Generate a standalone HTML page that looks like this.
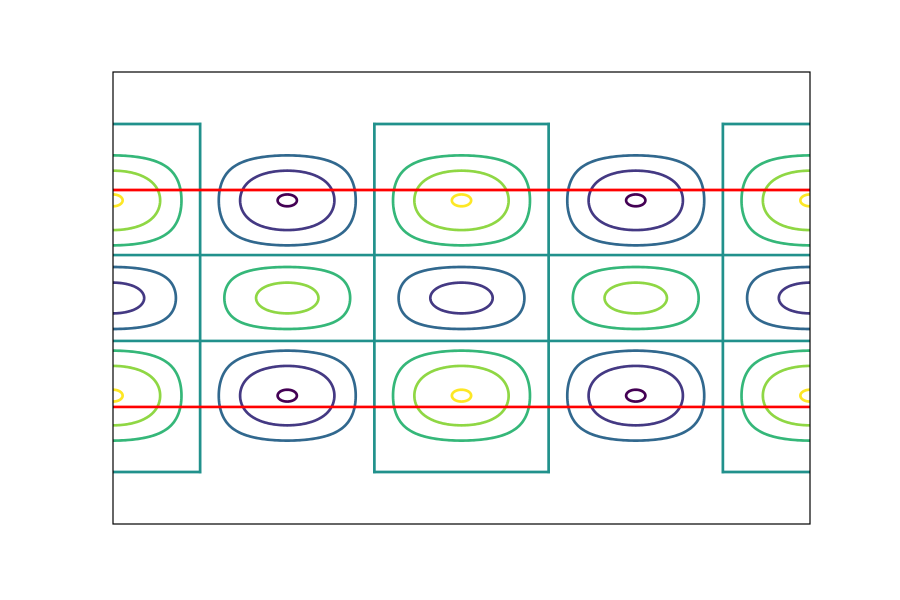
<!DOCTYPE html>
<html><head><meta charset="utf-8"><style>
html,body{margin:0;padding:0;background:#fff;}
svg{display:block;font-family:"Liberation Sans",sans-serif;}
</style></head><body>
<svg id="chart" width="900" height="600" viewBox="0 0 900 600">
<defs><clipPath id="clip"><rect x="113" y="72" width="697" height="452"/></clipPath></defs>
<rect x="0" y="0" width="900" height="600" fill="#fff"/>
<g id="plot" clip-path="url(#clip)"></g>
<rect x="113" y="72" width="697" height="452" fill="none" stroke="#000" stroke-width="1.2"/>
</svg>
<script>
// data
const cellCentersX = [0, 1, 2, 3, 4];
const rowCentersY = [0.432, 0, -0.432];     // data-y of contour centres per row
const rowHalfHeights = [0.295, 0.19, 0.295]; // half-height of cell shapes (data units)
const rowAmplitudes = [1.0, 0.78, 1.0];
const rowExponents = [1.55, 1.0, 1.55];
const rowSigns = [1, -1, 1];
const levels = [-0.985, -0.66, -0.33, 0.33, 0.66, 0.985];
const levelColors = ['#440154', '#443983', '#31688e', '#35b779', '#8fd744', '#fde725'];
const zeroVerticals = [0.5, 1.5, 2.5, 3.5];
const zeroHorizontalsFull = [0.19, -0.19];
const zeroOuterY = [0.77, -0.77];
const redLinesY = [0.478, -0.482];
const xDomain = [0, 4], yDomain = [-1, 1];

const X0 = 113, X1 = 810, Y0 = 524, Y1 = 72;
const SW = 2.7;
const sx = v => X0 + (v - xDomain[0]) / (xDomain[1] - xDomain[0]) * (X1 - X0);
const sy = v => Y0 + (v - yDomain[0]) / (yDomain[1] - yDomain[0]) * (Y1 - Y0);
const NS = 'http://www.w3.org/2000/svg';
const plot = document.getElementById('plot');

function addLine(x1, y1, x2, y2, color, name) {
  const l = document.createElementNS(NS, 'line');
  l.setAttribute('x1', x1); l.setAttribute('y1', y1);
  l.setAttribute('x2', x2); l.setAttribute('y2', y2);
  l.setAttribute('stroke', color); l.setAttribute('stroke-width', SW);
  l.setAttribute('stroke-linecap', 'square');
  
  
  plot.appendChild(l);
}

// closed contours
rowCentersY.forEach((cyD, ri) => {
  cellCentersX.forEach((cxD, ci) => {
    const sign = rowSigns[ri] * (ci % 2 === 0 ? 1 : -1);
    const A = rowAmplitudes[ri] * sign;
    levels.forEach((c, li) => {
      const r = c / A;
      if (r <= 0 || r >= 1) return;
      const q = rowExponents[ri];
      const cx = sx(cxD), cy = sy(cyD);
      const hw = (sx(0.5) - sx(0));
      const hh = Math.abs(sy(rowHalfHeights[ri]) - sy(0));
      const u0 = Math.asin(r), u1 = Math.PI - u0;
      const N = 120, top = [], bot = [];
      for (let k = 0; k <= N; k++) {
        const t = (1 - Math.cos(Math.PI * k / N)) / 2;
        const u = u0 + (u1 - u0) * t;
        const s = Math.min(1, Math.pow(r / Math.sin(u), 1 / q));
        const v = Math.asin(s);
        const px = cx + (u - Math.PI / 2) / (Math.PI / 2) * hw;
        const dy = (Math.PI / 2 - v) / (Math.PI / 2) * hh;
        top.push([px, cy - dy]); bot.push([px, cy + dy]);
      }
      const pts = top.concat(bot.reverse());
      const p = document.createElementNS(NS, 'path');
      p.setAttribute('d', 'M' + pts.map(a => a[0].toFixed(2) + ',' + a[1].toFixed(2)).join('L') + 'Z');
      p.setAttribute('fill', 'none');
      p.setAttribute('stroke', levelColors[li]);
      p.setAttribute('stroke-width', SW);
      
      
      plot.appendChild(p);
    });
  });
});

// zero contours
zeroVerticals.forEach(x => addLine(sx(x), sy(zeroOuterY[0]), sx(x), sy(zeroOuterY[1]), '#21918c', 'zero-contour-vertical'));
zeroHorizontalsFull.forEach(y => addLine(X0, sy(y), X1, sy(y), '#21918c', 'zero-contour-horizontal'));
cellCentersX.forEach((cxD, ci) => {
  if (ci % 2 !== 0) return;
  zeroOuterY.forEach(y => addLine(sx(cxD - 0.5), sy(y), sx(cxD + 0.5), sy(y), '#21918c', 'zero-contour-cap'));
});
// red lines
redLinesY.forEach(y => addLine(X0, sy(y), X1, sy(y), '#ff0000', 'red-line'));
</script>
</body></html>
